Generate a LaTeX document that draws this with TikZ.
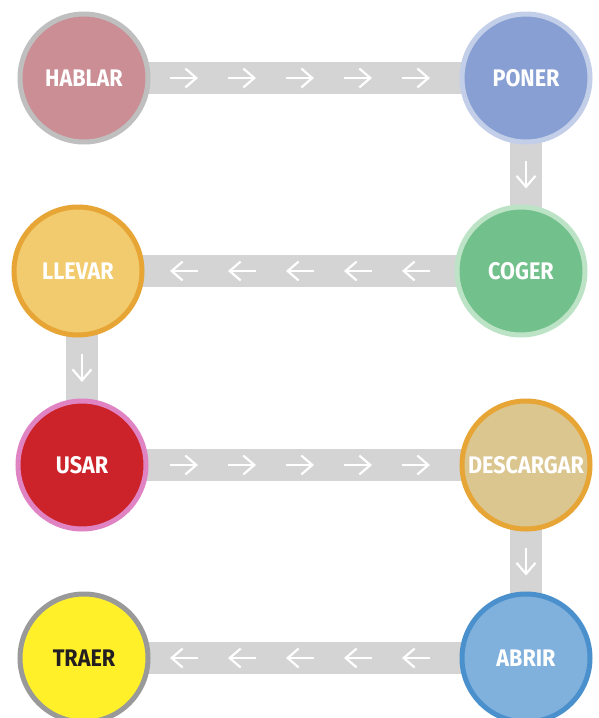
\documentclass[tikz,border=0pt]{standalone}
\usepackage{fontspec}
\setmainfont{Fira Sans}[FakeStretch=0.9]
\usetikzlibrary{arrows.meta,backgrounds,calc}
\definecolor{bandgray}{HTML}{D4D4D4}
\definecolor{hablarfill}{HTML}{CA8E94}
\definecolor{hablarrim}{HTML}{BFBFBF}
\definecolor{ponerfill}{HTML}{879FD2}
\definecolor{ponerrim}{HTML}{C3CFE9}
\definecolor{cogerfill}{HTML}{72C18C}
\definecolor{cogerrim}{HTML}{BDE3C7}
\definecolor{llevarfill}{HTML}{F2CB6F}
\definecolor{orangerim}{HTML}{E6A535}
\definecolor{usarfill}{HTML}{CC2229}
\definecolor{usarrim}{HTML}{E083C3}
\definecolor{descargarfill}{HTML}{DBC690}
\definecolor{abrirfill}{HTML}{80B0DC}
\definecolor{abrirrim}{HTML}{4A90CC}
\definecolor{traerfill}{HTML}{FFF02A}
\definecolor{traerrim}{HTML}{999999}
\definecolor{darktext}{HTML}{231F20}

\begin{document}
\begin{tikzpicture}[x=1pt,y=-1pt,
  verb/.style={circle,minimum size=128pt,inner sep=0pt,line width=5pt,
    font=\fontsize{24}{24}\selectfont\bfseries,text=white},
  band/.style={bandgray,line width=32pt},
  flow/.style={white,line width=2.2pt,-{Straight Barb[length=11pt,width=19pt]}}]
\useasboundingbox (0,0) rectangle (598,718);
% Drawing verbs
\node[verb,fill=hablarfill,draw=hablarrim] (hablar) at (84,78) {HABLAR};
\node[verb,fill=ponerfill,draw=ponerrim] (poner) at (526,78) {PONER};
\node[verb,fill=cogerfill,draw=cogerrim] (coger) at (521,271) {COGER};
\node[verb,fill=llevarfill,draw=orangerim] (llevar) at (78,271) {LLEVAR};
\node[verb,fill=usarfill,draw=usarrim] (usar) at (82,465) {USAR};
\node[verb,fill=descargarfill,draw=orangerim] (descargar) at (526,465) {DESCARGAR};
\node[verb,fill=abrirfill,draw=abrirrim] (abrir) at (526,658) {ABRIR};
\node[verb,fill=traerfill,draw=traerrim,text=darktext] (traer) at (84,658) {TRAER};
% Drawing bands
\begin{scope}[on background layer]
\draw[band] (hablar.center) -- (poner.center);
\draw[band] (poner.center) -- (poner |- coger);
\draw[band] (coger.center) -- (llevar.center);
\draw[band] (usar |- llevar) -- (usar.center);
\draw[band] (usar.center) -- (descargar.center);
\draw[band] (descargar.center) -- (abrir.center);
\draw[band] (abrir.center) -- (traer.center);
\end{scope}
% Drawing arrows on the bands
\foreach \x in {184,242,300,358,416} {
  \draw[flow] (\x-14,0 |- hablar) -- (\x+14,0 |- hablar);
  \draw[flow] (\x+14,0 |- coger) -- (\x-14,0 |- coger);
  \draw[flow] (\x-14,0 |- usar) -- (\x+14,0 |- usar);
  \draw[flow] (\x+14,0 |- abrir) -- (\x-14,0 |- abrir);
}
\draw[flow] ($(poner)!.5!(poner |- coger)+(0,-14)$) -- ($(poner)!.5!(poner |- coger)+(0,14)$);
\draw[flow] ($(usar |- llevar)!.5!(usar)+(0,-14)$) -- ($(usar |- llevar)!.5!(usar)+(0,14)$);
\draw[flow] ($(descargar)!.5!(abrir)+(0,-14)$) -- ($(descargar)!.5!(abrir)+(0,14)$);
\end{tikzpicture}
\end{document}
